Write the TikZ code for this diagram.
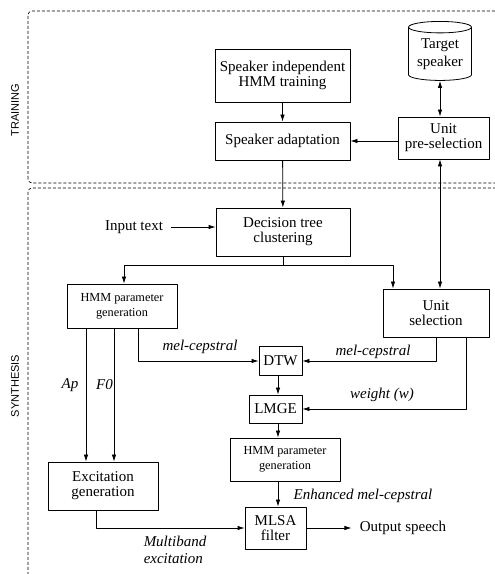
\documentclass[tikz,border=0pt]{standalone}
\usepackage{fontspec}
\setmainfont{Liberation Serif}
\newfontfamily\sidefont{Liberation Sans}
\usetikzlibrary{arrows.meta}
\usetikzlibrary{shapes.geometric}

\begin{document}
\begin{tikzpicture}[>={Latex[length=7bp,width=4.5bp]},line join=bevel,line width=0.8bp,
  block/.style={draw,rectangle,align=center,inner sep=0pt,font=\fontsize{15bp}{15bp}\selectfont},
  smallblock/.style={block,font=\fontsize{12.3bp}{15bp}\selectfont},
  lbl/.style={draw=none,align=left,inner sep=0pt,font=\fontsize{15bp}{17bp}\selectfont\itshape},
  txt/.style={draw=none,inner xsep=8bp,inner ysep=0pt,font=\fontsize{15bp}{17bp}\selectfont},
  region/.style={line width=0.7bp,dash pattern=on 3bp off 2bp,rounded corners=4bp},
  side/.style={draw=none,rotate=90,font=\sidefont\fontsize{11bp}{13bp}\selectfont}]
%%
\useasboundingbox (0bp,0bp) rectangle (495bp,574bp);
\draw [region] (28bp,391bp) rectangle (510bp,563bp);
\draw [region] (28bp,-20bp) rectangle (510bp,386bp);
\node (lab_train) at (15bp,464bp) [side] {TRAINING};
\node (lab_synth) at (15bp,188bp) [side] {SYNTHESIS};
%
\node (siht) at (282.5bp,498.5bp) [block,minimum width=135bp,minimum height=53bp] {Speaker independent\\HMM training};
  \node (sa) at (282.5bp,433bp) [block,minimum width=135bp,minimum height=38bp] {Speaker adaptation};
  \node (target) at (440bp,520bp) [draw,cylinder,shape border rotate=90,aspect=0.25,align=center,inner sep=0pt,
    minimum width=63bp,minimum height=59bp,font=\fontsize{15bp}{18bp}\selectfont] {Target\\speaker};
  \node (ups) at (443.5bp,436bp) [block,minimum width=91bp,minimum height=42bp] {Unit\\pre-selection};
  \node (dtc) at (283bp,342bp) [block,minimum width=134bp,minimum height=48bp] {Decision tree\\clustering};
  \node (input) at (134bp,347bp) [txt] {Input text};
  \node (hmm1) at (122bp,268bp) [smallblock,minimum width=110bp,minimum height=44bp] {HMM parameter\\generation};
  \node (us) at (436bp,261bp) [block,minimum width=106bp,minimum height=48bp] {Unit\\selection};
  \node (dtw) at (280.5bp,213bp) [block,minimum width=43bp,minimum height=29bp] {DTW};
  \node (lmge) at (275.5bp,165bp) [block,minimum width=53bp,minimum height=28bp] {LMGE};
  \node (hmm2) at (285bp,114.5bp) [smallblock,minimum width=110bp,minimum height=43bp] {HMM parameter\\generation};
  \node (mlsa) at (275.5bp,46bp) [block,minimum width=61bp,minimum height=42bp] {MLSA\\filter};
  \node (exc) at (103bp,88bp) [block,minimum width=110bp,minimum height=48bp] {Excitation\\generation};
  \node (output) at (403bp,46bp) [txt] {Output speech};
%
\node (l_mel1) at (200bp,227bp) [lbl] {mel-cepstral};
  \node (l_mel2) at (373bp,222bp) [lbl] {mel-cepstral};
  \node (l_w) at (382bp,179bp) [lbl] {weight (w)};
  \node (l_enh) at (363bp,78bp) [lbl] {Enhanced mel-cepstral};
  \node (l_multi) at (175bp,24bp) [lbl] {Multiband\\excitation};
  \node (l_ap) at (70bp,189bp) [lbl] {Ap};
  \node (l_f0) at (104.5bp,189bp) [lbl] {F0};
%
\coordinate (split) at (283bp,309bp);
  \coordinate (axis) at (278bp,0bp);
  \draw [->] (siht) -- (sa);
  \draw [->] (ups.west |- sa.east) -- (sa.east);
  \draw [<->] (target.south) -- (target.south |- ups.north);
  \draw [<->] (ups.south -| target.south) -- (us.north -| target.south);
  \draw [->] (sa) -- (dtc);
  \draw [->] (input) -- (input -| dtc.west);
  \draw (dtc) -- (split);
  \draw [->] (split) -| ([xshift=2bp]hmm1.north);
  \draw [->] (split) -| ([xshift=-43bp]us.north);
  \draw [->] ([xshift=16bp]hmm1.south) |- (dtw);
  \draw [->] (us.south) |- (dtw);
  \draw [->] ([xshift=30bp]us.south) |- (lmge);
  \draw [->] (dtw.south -| axis) -- (lmge.north -| axis);
  \draw [->] (lmge.south -| axis) -- (hmm2.north -| axis);
  \draw [->] (hmm2.south -| axis) -- (mlsa.north -| axis);
  \draw [->] ([xshift=-36bp]hmm1.south) -- ([xshift=-36bp]hmm1.south |- exc.north);
  \draw [->] ([xshift=-8bp]hmm1.south) -- ([xshift=-8bp]hmm1.south |- exc.north);
  \draw [->] ([xshift=-7bp]exc.south) |- (mlsa);
  \draw [->] (mlsa) -- (output);
%
\end{tikzpicture}
\end{document}
